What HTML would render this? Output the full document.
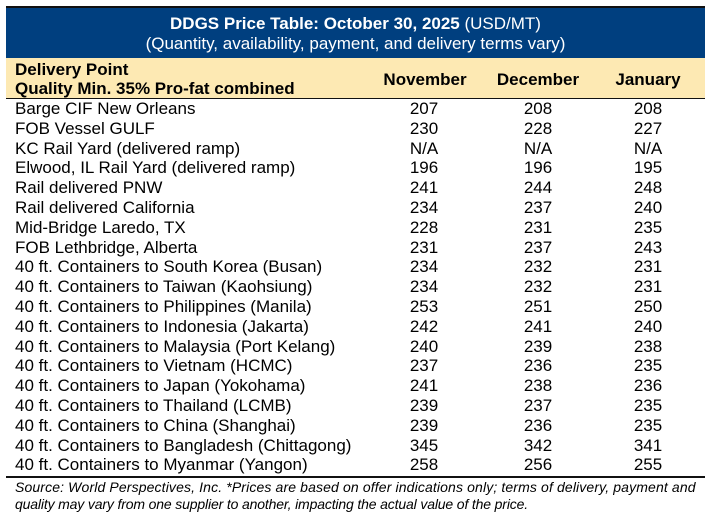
<!DOCTYPE html>
<html><head><meta charset="utf-8"><style>
html,body{margin:0;padding:0;background:#fff;}
body{width:716px;height:522px;position:relative;overflow:hidden;font-family:"Liberation Sans",Arial,sans-serif;color:#000;}
.abs{position:absolute;white-space:nowrap;}
#blue{position:absolute;left:6px;top:6px;width:699px;height:52px;background:#003f7f;border-top:2px solid #111;box-sizing:border-box;}
#yel{position:absolute;left:6px;top:58px;width:699px;height:40px;background:#fde9b3;}
.t{left:6px;width:699px;text-align:center;color:#fff;font-size:17px;line-height:20px;}
.hl{position:absolute;left:6px;width:699px;height:1.5px;background:#111;}
.row{position:absolute;left:0;width:716px;height:19.8px;font-size:17px;line-height:19.8px;}
.row span{position:absolute;top:0;white-space:nowrap;}
.row .n{left:15px;}
.row .a,.row .b,.row .c{width:80px;text-align:center;}
.row .a{left:384px;}.row .b{left:498px;}.row .c{left:608px;}
.hd{font-weight:bold;font-size:17px;}
.fn{left:15px;font-style:italic;font-size:14px;line-height:17px;}
</style></head><body>
<div id="blue"></div>
<div id="yel"></div>
<div class="abs t" style="top:14px;"><b>DDGS Price Table: October 30, 2025</b> (USD/MT)</div>
<div class="abs t" style="top:34px;">(Quantity, availability, payment, and delivery terms vary)</div>
<div class="abs hd" style="left:15px;top:60px;line-height:20px;">Delivery Point</div>
<div class="abs hd" style="left:15px;top:79px;line-height:20px;">Quality Min. 35% Pro-fat combined</div>
<div class="abs hd" style="left:365px;width:120px;text-align:center;top:70px;line-height:20px;">November</div>
<div class="abs hd" style="left:478px;width:120px;text-align:center;top:70px;line-height:20px;">December</div>
<div class="abs hd" style="left:588px;width:120px;text-align:center;top:70px;line-height:20px;">January</div>
<div class="hl" style="top:97.5px;"></div>

<div class="row" style="top:99px;"><span class="n">Barge CIF New Orleans</span><span class="a">207</span><span class="b">208</span><span class="c">208</span></div>
<div class="row" style="top:118.8px;"><span class="n">FOB Vessel GULF</span><span class="a">230</span><span class="b">228</span><span class="c">227</span></div>
<div class="row" style="top:138.6px;"><span class="n">KC Rail Yard (delivered ramp)</span><span class="a">N/A</span><span class="b">N/A</span><span class="c">N/A</span></div>
<div class="row" style="top:158.4px;"><span class="n">Elwood, IL Rail Yard (delivered ramp)</span><span class="a">196</span><span class="b">196</span><span class="c">195</span></div>
<div class="row" style="top:178.2px;"><span class="n">Rail delivered PNW</span><span class="a">241</span><span class="b">244</span><span class="c">248</span></div>
<div class="row" style="top:198px;"><span class="n">Rail delivered California</span><span class="a">234</span><span class="b">237</span><span class="c">240</span></div>
<div class="row" style="top:217.8px;"><span class="n">Mid-Bridge Laredo, TX</span><span class="a">228</span><span class="b">231</span><span class="c">235</span></div>
<div class="row" style="top:237.6px;"><span class="n">FOB Lethbridge, Alberta</span><span class="a">231</span><span class="b">237</span><span class="c">243</span></div>
<div class="row" style="top:257.4px;"><span class="n">40 ft. Containers to South Korea (Busan)</span><span class="a">234</span><span class="b">232</span><span class="c">231</span></div>
<div class="row" style="top:277.2px;"><span class="n">40 ft. Containers to Taiwan (Kaohsiung)</span><span class="a">234</span><span class="b">232</span><span class="c">231</span></div>
<div class="row" style="top:297px;"><span class="n">40 ft. Containers to Philippines (Manila)</span><span class="a">253</span><span class="b">251</span><span class="c">250</span></div>
<div class="row" style="top:316.8px;"><span class="n">40 ft. Containers to Indonesia (Jakarta)</span><span class="a">242</span><span class="b">241</span><span class="c">240</span></div>
<div class="row" style="top:336.6px;"><span class="n">40 ft. Containers to Malaysia (Port Kelang)</span><span class="a">240</span><span class="b">239</span><span class="c">238</span></div>
<div class="row" style="top:356.4px;"><span class="n">40 ft. Containers to Vietnam (HCMC)</span><span class="a">237</span><span class="b">236</span><span class="c">235</span></div>
<div class="row" style="top:376.2px;"><span class="n">40 ft. Containers to Japan (Yokohama)</span><span class="a">241</span><span class="b">238</span><span class="c">236</span></div>
<div class="row" style="top:396px;"><span class="n">40 ft. Containers to Thailand (LCMB)</span><span class="a">239</span><span class="b">237</span><span class="c">235</span></div>
<div class="row" style="top:415.8px;"><span class="n">40 ft. Containers to China (Shanghai)</span><span class="a">239</span><span class="b">236</span><span class="c">235</span></div>
<div class="row" style="top:435.6px;"><span class="n">40 ft. Containers to Bangladesh (Chittagong)</span><span class="a">345</span><span class="b">342</span><span class="c">341</span></div>
<div class="row" style="top:455.4px;"><span class="n">40 ft. Containers to Myanmar (Yangon)</span><span class="a">258</span><span class="b">256</span><span class="c">255</span></div>
<div class="hl" style="top:476px;"></div>
<div class="abs fn" style="top:479px;letter-spacing:0.13px;">Source: World Perspectives, Inc. *Prices are based on offer indications only; terms of delivery, payment and</div>
<div class="abs fn" style="top:496px;letter-spacing:-0.15px;">quality may vary from one supplier to another, impacting the actual value of the price.</div>
</body></html>
